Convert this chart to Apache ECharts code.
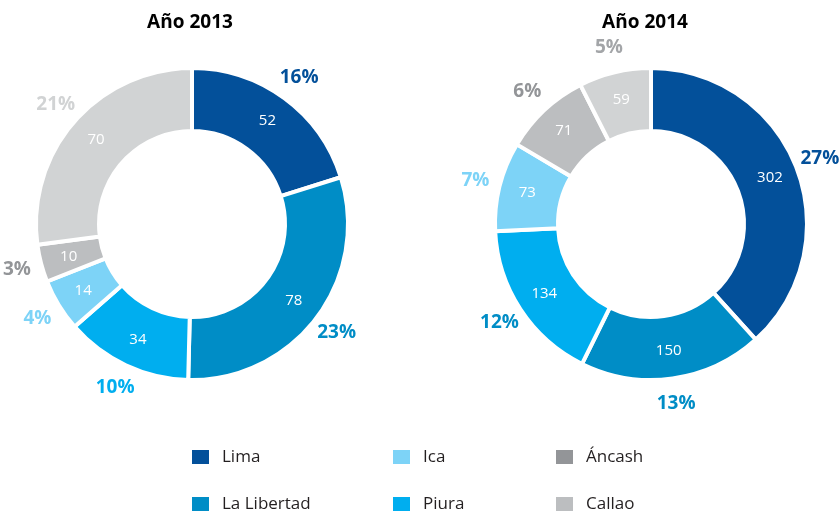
<!DOCTYPE html>
<html>
<head>
<meta charset="utf-8">
<script src="https://cdn.jsdelivr.net/npm/echarts@6/dist/echarts.min.js"></script>
<style>
html,body{margin:0;padding:0;background:#fff;}
#chart{width:840px;height:513px;}
</style>
</head>
<body>
<div id="chart"></div>
<script>
const regions = ['Lima', 'La Libertad', 'Piura', 'Ica', 'Áncash', 'Callao'];
const values2013 = [52, 78, 34, 14, 10, 70];
const values2014 = [302, 150, 134, 73, 71, 59];
const pct2013 = ['16%', '23%', '10%', '4%', '3%', '21%'];
const pct2014 = ['27%', '13%', '12%', '7%', '6%', '5%'];
const titles = ['Año 2013', 'Año 2014'];

const FONT = '"Open Sans", "Noto Sans", sans-serif';
const sliceColors = ['#03509a', '#008dc6', '#00aeef', '#7dd3f7', '#bcbec0', '#d1d3d4'];
const legendColors = ['#03509a', '#008dc6', '#00aeef', '#7dd3f7', '#939598', '#bcbec0'];
const pctColors2013 = ['#03509a', '#008dc6', '#00aeef', '#7dd3f7', '#939598', '#d1d3d4'];
const pctColors2014 = ['#03509a', '#008dc6', '#008dc6', '#7dd3f7', '#939598', '#a3a5a8'];

const centers = [[192, 224], [651, 224]];
const titleX = [185, 640];

function mainSeries(values, center) {
  return {
    type: 'pie',
    center: center,
    radius: [93, 156],
    startAngle: 90,
    clockwise: true,
    silent: true,
    avoidLabelOverlap: false,
    itemStyle: { borderColor: '#ffffff', borderWidth: 4 },
    label: {
      show: true, position: 'inside', formatter: '{c}',
      color: '#ffffff', fontSize: 15, fontFamily: FONT
    },
    labelLine: { show: false },
    data: values.map((v, i) => ({ name: regions[i], value: v, itemStyle: { color: sliceColors[i] } }))
  };
}
function labelRing(values, pcts, colors, center) {
  return {
    type: 'pie',
    center: center,
    radius: [154, 202],
    startAngle: 90,
    clockwise: true,
    silent: true,
    avoidLabelOverlap: false,
    itemStyle: { color: 'rgba(0,0,0,0)', borderWidth: 0 },
    label: {
      show: true, position: 'inside',
      formatter: p => pcts[p.dataIndex],
      fontSize: 19, fontWeight: 'bold', fontFamily: FONT
    },
    labelLine: { show: false },
    data: values.map((v, i) => ({ name: regions[i], value: v, label: { color: colors[i] } }))
  };
}

function legendItem(name) {
  const i = regions.indexOf(name);
  return { name: name, icon: 'rect', itemStyle: { color: legendColors[i] } };
}
function legendCol(names, left) {
  return {
    orient: 'vertical', left: left, top: 448, padding: 0,
    itemWidth: 19, itemHeight: 16, itemGap: 29,
    selectedMode: false,
    textStyle: { fontSize: 17, fontFamily: FONT, color: '#231f20', lineHeight: 16, padding: [2, 0, 0, 7] },
    data: names.map(legendItem)
  };
}

const option = {
  animation: false,
  backgroundColor: '#ffffff',
  title: titles.map((t, i) => ({
    text: t, left: titleX[i], top: 8, textAlign: 'center',
    textStyle: { fontSize: 19, fontWeight: 'bold', fontFamily: FONT, color: '#000000' }
  })),
  legend: [
    legendCol(['Lima', 'La Libertad'], 190),
    legendCol(['Ica', 'Piura'], 391),
    legendCol(['Áncash', 'Callao'], 554)
  ],
  series: [
    mainSeries(values2013, centers[0]),
    labelRing(values2013, pct2013, pctColors2013, centers[0]),
    mainSeries(values2014, centers[1]),
    labelRing(values2014, pct2014, pctColors2014, centers[1])
  ]
};

const chart = echarts.init(document.getElementById('chart'), null, { renderer: 'canvas' });
chart.setOption(option);
</script>
</body>
</html>
